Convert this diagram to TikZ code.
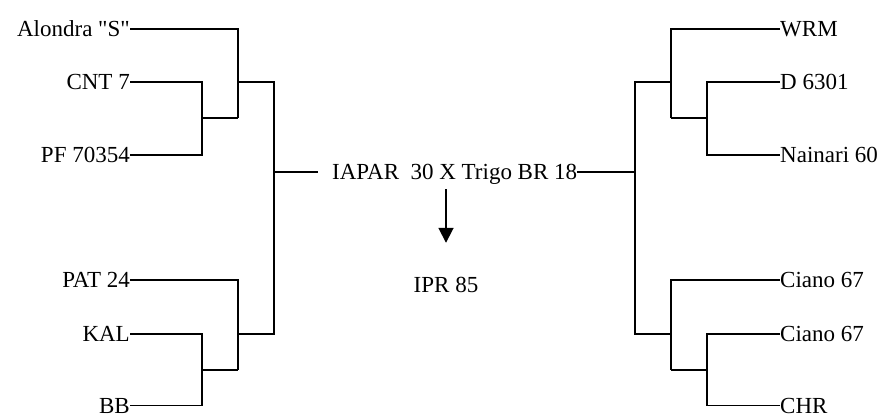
\documentclass[tikz,border=0pt]{standalone}
\usepackage{fontspec}
\setmainfont{Liberation Serif}
\newfontfamily\plainq{Liberation Serif}[Ligatures=TeXOff]
\usetikzlibrary{arrows.meta}
\begin{document}
\begin{tikzpicture}[x=1pt,y=-1pt,
  lbl/.style={inner sep=0pt,text height=15pt,text depth=0pt,font=\fontsize{23}{27}\selectfont},
  ln/.style={line width=1.8pt},
  arr/.style={line width=1.8pt,-{Triangle[length=15pt,width=15pt]}}]
\useasboundingbox (0,0) rectangle (882,414);
% left labels
\node[lbl,anchor=east] (a) at (130,29) {\plainq Alondra "S"};
\node[lbl,anchor=east] (c) at (130,82) {CNT 7};
\node[lbl,anchor=east] (p) at (130,155) {PF 70354};
\node[lbl,anchor=east] (pat) at (130,280) {PAT 24};
\node[lbl,anchor=east] (kal) at (130,334) {KAL};
\node[lbl,anchor=east] (bb) at (130,405.5) {BB};
% right labels
\node[lbl,anchor=west] (wrm) at (780,29) {WRM};
\node[lbl,anchor=west] (d) at (780,82) {D 6301};
\node[lbl,anchor=west] (nai) at (780,155) {Nainari 60};
\node[lbl,anchor=west] (ci1) at (780,280) {Ciano 67};
\node[lbl,anchor=west] (ci2) at (780,334) {Ciano 67};
\node[lbl,anchor=west] (chr) at (780,405.5) {CHR};
% centre
\node[lbl,anchor=west] (iapar) at (332,172) {IAPAR\ \ 30 X Trigo BR 18};
\node[lbl] (ipr) at (446,284.5) {IPR 85};
% left junctions
\coordinate (l1) at (202,118);
\coordinate (l2) at (238,118);
\coordinate (l3) at (238,82);
\coordinate (l4) at (202,370);
\coordinate (l5) at (238,370);
\coordinate (l6) at (238,334);
\coordinate (lr) at (274,172);
% right junctions
\coordinate (r1) at (707,118);
\coordinate (r2) at (671,118);
\coordinate (r3) at (671,82);
\coordinate (r4) at (707,370);
\coordinate (r5) at (671,370);
\coordinate (r6) at (671,334);
\coordinate (rr) at (635,172);
% left tree
\draw[ln] (c.east) -| (l1) |- (p.east);
\draw[ln] (l1) -- (l2);
\draw[ln] (a.east) -| (l2);
\draw[ln] (kal.east) -| (l4) |- (bb.east);
\draw[ln] (l4) -- (l5);
\draw[ln] (pat.east) -| (l5);
\draw[ln] (l3) -| (lr) |- (l6);
\draw[ln] (lr) -- ([xshift=-14pt]iapar.west);
% right tree
\draw[ln] (d.west) -| (r1) |- (nai.west);
\draw[ln] (r1) -- (r2);
\draw[ln] (wrm.west) -| (r2);
\draw[ln] (ci2.west) -| (r4) |- (chr.west);
\draw[ln] (r4) -- (r5);
\draw[ln] (ci1.west) -| (r5);
\draw[ln] (r3) -| (rr) |- (r6);
\draw[ln] (iapar.east) -- (rr);
% arrow
\draw[arr] ([yshift=-17pt]iapar.center -| ipr.north) -- ([yshift=34pt]ipr.north);
\end{tikzpicture}
\end{document}
